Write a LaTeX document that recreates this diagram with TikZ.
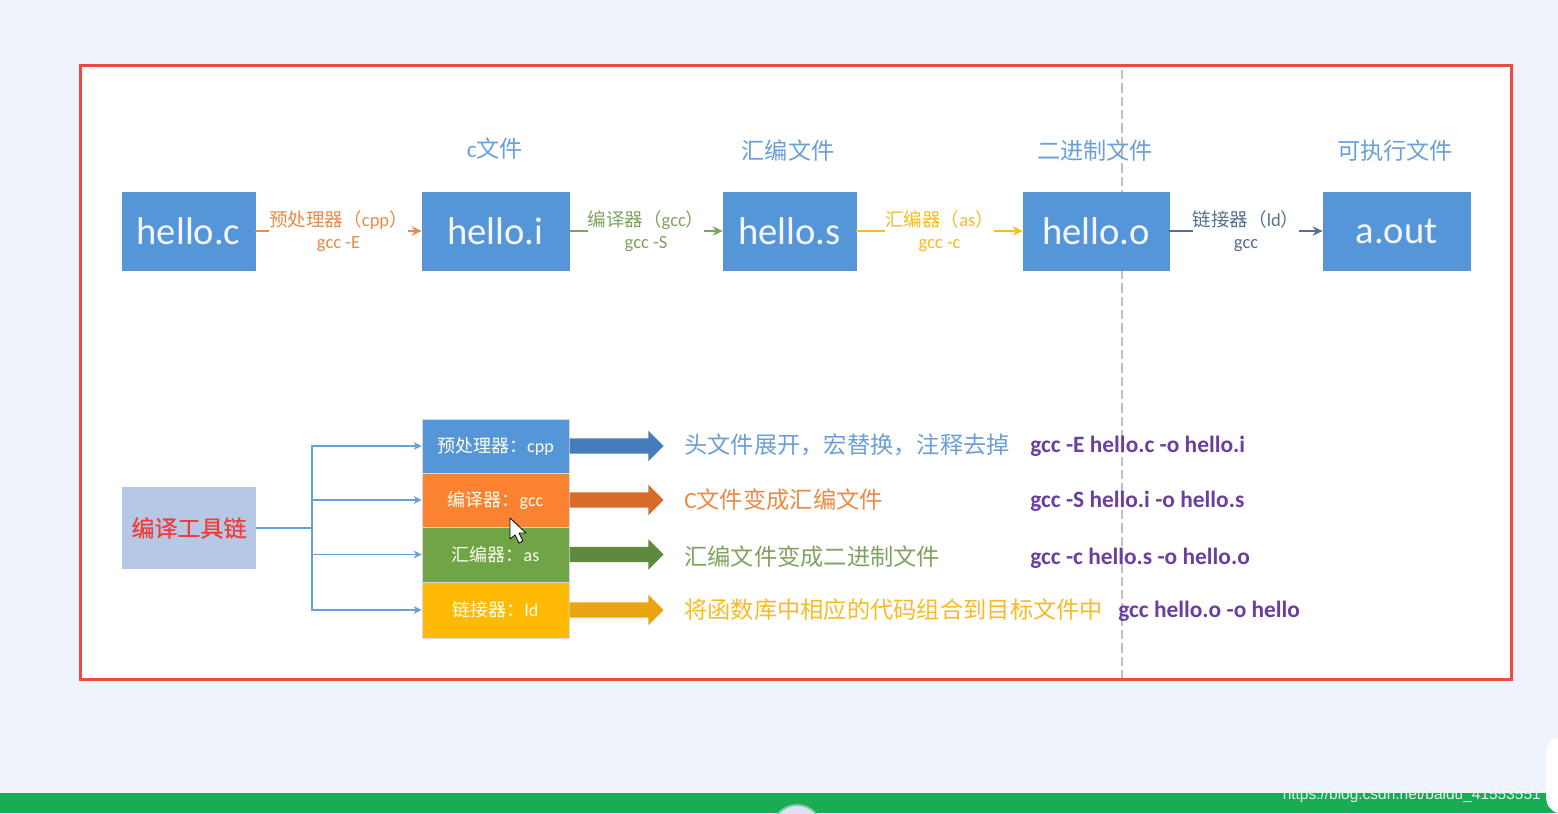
\documentclass[tikz,border=0pt]{standalone}
\usepackage{fontspec}
\usetikzlibrary{arrows.meta,shapes.arrows}
\setmainfont{Carlito}
\newfontfamily\cjk{Noto Sans CJK SC}
\newfontfamily\wmfont{Liberation Sans}
\def\u{0.75pt}
\newcommand{\fs}[1]{\fontsize{#1}{18pt}\selectfont}
\definecolor{pagebg}{HTML}{EEF3FC}
\definecolor{framered}{HTML}{F04A3C}
\definecolor{boxblue}{HTML}{5596D8}
\definecolor{boxorange}{HTML}{FB8231}
\definecolor{boxgreen}{HTML}{6FA447}
\definecolor{boxyellow}{HTML}{FFBA05}
\definecolor{toolfill}{HTML}{B7C8E6}
\definecolor{titleblue}{HTML}{6A9FD8}
\definecolor{txtorange}{HTML}{E98A46}
\definecolor{txtgreen}{HTML}{7EA35E}
\definecolor{txtyellow}{HTML}{F9BB22}
\definecolor{txtslate}{HTML}{56708F}
\definecolor{cmdpurple}{HTML}{6B3FA0}
\definecolor{barblue}{HTML}{457DBB}
\definecolor{barorange}{HTML}{D96B2B}
\definecolor{bargreen}{HTML}{5F8A3E}
\definecolor{baryellow}{HTML}{E8A50F}
\definecolor{bargreenbg}{HTML}{1AAB55}
\definecolor{toolred}{HTML}{F23A36}
\definecolor{lilac}{HTML}{E0E0F5}
\tikzset{
  srcbox/.style={fill=boxblue,draw=boxblue!85!gray,line width=0.5pt,text=white!96!blue,inner sep=0pt,minimum height=78*\u,font=\fs{29pt}},
  ttl/.style={text=titleblue,inner sep=0pt,font=\fs{17.4pt}\cjk},
  lbl/.style={fill=white,inner sep=0pt,minimum height=54*\u,align=center,font=\fs{13.9pt}},
  conn/.style={line width=1.9pt,-{Stealth[length=7.5pt,width=7pt]}},
  stk/.style={draw=white!70!gray,line width=0.6pt,inner sep=0pt,minimum width=147*\u,text=white!92!yellow,font=\fs{13.5pt}},
  tree/.style={draw=boxblue!90!white,line width=0.9pt},
  treearr/.style={tree,-{Stealth[length=6pt,width=6pt]}},
  bigarr/.style={single arrow,single arrow head extend=5.6pt,single arrow tip angle=90,shape border rotate=0,inner xsep=0pt,inner ysep=5.6pt,minimum height=94*\u,minimum width=30*\u,anchor=west},
  desc/.style={anchor=west,inner sep=0pt,font=\fs{17.45pt}\cjk},
  cmd/.style={anchor=west,inner sep=0pt,text=cmdpurple,font=\fs{17.55pt}\bfseries},
}
\begin{document}
\begin{tikzpicture}[x=0.75pt,y=-0.75pt]
\useasboundingbox (0,0) rectangle (1558,813);
\begin{scope}
\clip (0,0) rectangle (1558,813);
\fill[pagebg] (0,0) rectangle (1558,813);
\fill[bargreenbg] (0,793) rectangle (1558,813);
\fill[bargreenbg!60!white] (797,830) circle (26);
\fill[lilac] (797,830) circle (24);
\fill[white] (1558,738) -- (1556,738) .. controls (1549,740) and (1546,746) .. (1546,756) -- (1546,795) .. controls (1546,805) and (1550,811) .. (1558,813) -- cycle;
\end{scope}
\node[anchor=base east,inner sep=0pt,text=white!88!bargreenbg,font=\fs{11.6pt}\wmfont] (wm) at (1541,799) {https://blog.csdn.net/baidu\_41553551};
\draw[framered,line width=2.3pt,fill=white] (80.5,65.5) rectangle (1511.5,679.5);
\draw[gray!50,line width=0.8pt,dash pattern=on 7pt off 3pt] (1122,70) -- (1122,678);

% top row
\node[srcbox,minimum width=133*\u] (c) at (188.5,231) {hello.c};
\node[srcbox,minimum width=147*\u] (i) at (495.5,231) {hello.i};
\node[srcbox,minimum width=133*\u] (s) at (789.5,231) {hello.s};
\node[srcbox,minimum width=146*\u] (o) at (1096,231) {hello.o};
\node[srcbox,minimum width=147*\u] (out) at (1396.5,231) {a.out};

\node[ttl] (t1) at (495,149) {{\fontspec{Carlito}c}文件};
\node[ttl] (t2) at (788,151) {汇编文件};
\node[ttl] (t3) at (1095,151) {二进制文件};
\node[ttl] (t4) at (1395,151) {可执行文件};

\draw[conn,txtorange] (c) -- node[lbl,minimum width=136*\u,text=txtorange] (l1) {{\cjk 预处理器（}cpp{\cjk ）}\\[-1pt]gcc -E} (i);
\draw[conn,txtgreen] (i) -- node[lbl,minimum width=114*\u,text=txtgreen] (l2) {{\cjk 编译器（}gcc{\cjk ）}\\[-1pt]gcc -S} (s);
\draw[conn,txtyellow] (s) -- node[lbl,minimum width=106*\u,text=txtyellow] (l3) {{\cjk 汇编器（}as{\cjk ）}\\[-1pt]gcc -c} (o);
\draw[conn,txtslate] (o) -- node[lbl,minimum width=104*\u,text=txtslate] (l4) {{\cjk 链接器（}ld{\cjk ）}\\[-1pt]gcc} (out);

% tool chain
\node[fill=toolfill,inner sep=0pt,minimum width=134*\u,minimum height=82*\u,text=toolred,font=\fs{17.25pt}\cjk\addfontfeature{FakeBold=0.5}] (tool) at (189,528) {编译工具链};
\node[stk,fill=boxblue,minimum height=54*\u] (b1) at (495.5,446) {{\cjk 预处理器：}cpp};
\node[stk,fill=boxorange,minimum height=54*\u] (b2) at (495.5,500) {{\cjk 编译器：}gcc};
\node[stk,fill=boxgreen,minimum height=55*\u] (b3) at (495.5,554.5) {{\cjk 汇编器：}as};
\node[stk,fill=boxyellow,minimum height=56*\u] (b4) at (495.5,610) {{\cjk 链接器：}ld};

\coordinate (bus) at (312,528);
\draw[tree] (tool.east) -- (bus);
\draw[treearr] (bus) |- (b1.west);
\draw[treearr] (bus) |- (b2.west);
\draw[treearr] (bus) |- (b3.west);
\draw[treearr] (bus) |- (b4.west);

\node[bigarr,fill=barblue] (a1) at (b1.east) {};
\node[bigarr,fill=barorange] (a2) at (b2.east) {};
\node[bigarr,fill=bargreen] (a3) at (b3.east) {};
\node[bigarr,fill=baryellow] (a4) at (b4.east) {};

\node[desc,text=titleblue] (d1) at (684,445) {头文件展开，宏替换，注释去掉};
\node[desc,text=txtorange] (d2) at (684,500) {{\fontspec{Carlito}C}文件变成汇编文件};
\node[desc,text=txtgreen] (d3) at (684,557) {汇编文件变成二进制文件};
\node[desc,text=txtyellow] (d4) at (684,610) {将函数库中相应的代码组合到目标文件中};

\node[cmd] (m1) at (1030,446) {gcc -E hello.c -o hello.i};
\node[cmd] (m2) at (1030,501) {gcc -S hello.i -o hello.s};
\node[cmd] (m3) at (1030,558) {gcc -c hello.s -o hello.o};
\node[cmd] (m4) at (1118,611) {gcc hello.o -o hello};

% mouse cursor
\draw[black,line width=0.6pt,fill=white,line join=round] (510,518) -- (510,539) -- (515,535) -- (519,543) -- (523,541) -- (519,533) -- (526,533) -- cycle;
\end{tikzpicture}
\end{document}
